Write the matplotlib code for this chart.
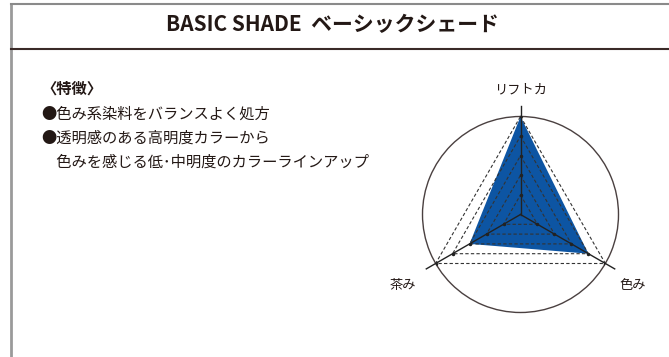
import numpy as np
import matplotlib
matplotlib.use("Agg")
import matplotlib.pyplot as plt

plt.rcParams['font.family'] = ['Noto Sans CJK JP', 'DejaVu Sans']

# ---- data ----
axis_labels = ["リフトカ", "色み", "茶み"]
values = [5, 4, 3]
levels = [1, 2, 3, 4, 5]
title = "BASIC SHADE  ベーシックシェード"
feature_lines = ["〈特徴〉",
                 "●色み系染料をバランスよく処方",
                 "●透明感のある高明度カラーから",
                 "　色みを感じる低･中明度のカラーラインアップ"]

W, H = 669, 357
fig = plt.figure(figsize=(W / 100, H / 100), dpi=100)
fig.patch.set_facecolor("white")

TXT = "#231815"
BLUE = "#0d55a3"

# background axes in pixel coordinates
bg = fig.add_axes([0, 0, 1, 1])
bg.set_xlim(0, W)
bg.set_ylim(H, 0)
bg.axis("off")

# frame
bg.plot([11, 11], [3, H], color="#9a9a9a", lw=2.0, solid_capstyle="butt")
bg.plot([11, W], [3.5, 3.5], color="#8a8a8a", lw=1.5)
bg.plot([11, W], [48.5, 48.5], color="#3a2a28", lw=1.5)

bg.text(332, 25, title, ha="center", va="center", fontsize=15,
        fontweight="bold", color=TXT)

ys = [89, 114, 138, 162]
for y, s in zip(ys, feature_lines):
    bg.text(41, y, s, ha="left", va="center", fontsize=11.0,
            color=TXT, fontweight="bold" if y == ys[0] else "normal")

# radar
cx, cy, R = 520.5, 214.5, 98
ax = fig.add_axes([(cx - R) / W, (H - cy - R) / H, 2 * R / W, 2 * R / H],
                  projection="polar")
ax.set_theta_offset(np.pi / 2)
ax.set_theta_direction(-1)
ax.set_ylim(0, 5)
ax.grid(False)
ax.set_xticks([])
ax.set_yticks([])
ax.spines["polar"].set_color("#4a4040")
ax.spines["polar"].set_linewidth(1.0)
ax.set_facecolor("none")

n = len(axis_labels)
angles = np.arange(n) * 2 * np.pi / n
ang_c = np.append(angles, angles[0])
vals_c = np.append(values, values[0])

ax.fill(ang_c, vals_c, color=BLUE, zorder=2, lw=0)
for lv in levels:
    ax.plot(ang_c, [lv] * (n + 1), ls=(0, (3, 2)), color="#333333",
            lw=0.8, zorder=3)
    ax.plot(angles, [lv] * n, ls="none", marker="o", ms=1.5, color="#222222",
            zorder=4)
for a in angles:
    ax.plot([a, a], [0, 5.55], color="#222222", lw=1.0, zorder=4,
            clip_on=False)

# axis labels
bg.text(521, 90, axis_labels[0], ha="center", va="center", fontsize=9.5,
        color=TXT)
bg.text(633, 285, axis_labels[1], ha="center", va="center", fontsize=9.5,
        color=TXT)
bg.text(403, 285, axis_labels[2], ha="center", va="center", fontsize=9.5,
        color=TXT)

fig.savefig("out.png", dpi=100, facecolor="white")
